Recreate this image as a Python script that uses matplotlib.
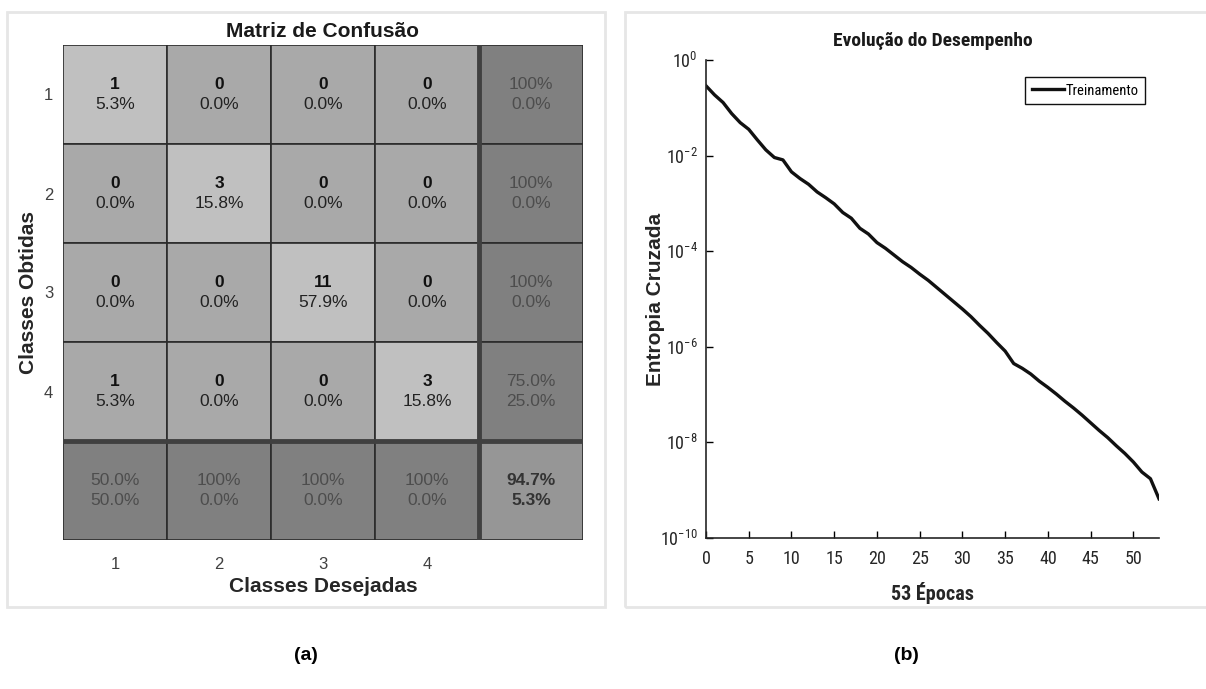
import matplotlib
matplotlib.use('Agg')
import matplotlib.pyplot as plt
import numpy as np
from matplotlib import font_manager
from matplotlib.patches import Rectangle

# confusion matrix counts (rows = obtained class, cols = desired class)
conf = np.array([[1, 0, 0, 0],
                 [0, 3, 0, 0],
                 [0, 0, 11, 0],
                 [1, 0, 0, 3]])
class_labels = ['1', '2', '3', '4']

# training curve (cross-entropy, log10 values)
epochs = np.arange(0, 54)
log_ce = [-0.54, -0.73, -0.89, -1.12, -1.31, -1.45, -1.67, -1.88, -2.04, -2.09,
          -2.34, -2.48, -2.60, -2.76, -2.88, -3.01, -3.19, -3.31, -3.52, -3.64,
          -3.82, -3.94, -4.08, -4.22, -4.34, -4.48, -4.61, -4.76, -4.91, -5.06,
          -5.21, -5.37, -5.55, -5.72, -5.91, -6.09, -6.35, -6.45, -6.57, -6.72,
          -6.85, -6.99, -7.14, -7.28, -7.43, -7.59, -7.75, -7.90, -8.07, -8.23,
          -8.41, -8.62, -8.76, -9.18]
ce = 10.0 ** np.array(log_ce)


def pick_font(names):
    for n in names:
        try:
            font_manager.findfont(n, fallback_to_default=False)
            return n
        except Exception:
            pass
    return 'DejaVu Sans'


SANS = pick_font(['Liberation Sans', 'Arimo', 'DejaVu Sans'])
NARROW = pick_font(['Liberation Sans Narrow', 'Roboto Condensed', 'Liberation Sans'])
plt.rcParams['font.family'] = SANS

W, H = 1206, 689
fig = plt.figure(figsize=(W / 100, H / 100), dpi=100)


def fx(px):
    return px / W


def fy(py):
    return 1 - py / H


# panel frames
fig.add_artist(Rectangle((fx(7), fy(607)), fx(598), (607 - 12) / H, transform=fig.transFigure,
                         fill=False, edgecolor='#e6e6e6', lw=2))
fig.add_artist(Rectangle((fx(625), fy(607)), fx(600), (607 - 12) / H, transform=fig.transFigure,
                         fill=False, edgecolor='#e6e6e6', lw=2))

# ---------------- (a) confusion matrix ----------------
n = conf.shape[0]
total = conf.sum()
row_sum = conf.sum(axis=1)
col_sum = conf.sum(axis=0)
diag = np.diag(conf)

ax = fig.add_axes([fx(63), fy(540), fx(520), (540 - 45) / H])
c_diag, c_off, c_marg, c_corner = '#c0c0c0', '#a9a9a9', '#808080', '#969696'
dy = 0.105
fs_cell = 12.5
for i in range(n + 1):
    for j in range(n + 1):
        if i < n and j < n:
            fc = c_diag if i == j else c_off
        elif i == n and j == n:
            fc = c_corner
        else:
            fc = c_marg
        ax.add_patch(Rectangle((j + 0.5, i + 0.5), 1, 1, facecolor=fc,
                               edgecolor='#2b2b2b', lw=1.2))
        if i < n and j < n:
            v = conf[i, j]
            ax.text(j + 1, i + 1 - dy, f'{v}', ha='center', va='center',
                    fontsize=fs_cell, fontweight='bold', color='#111111')
            ax.text(j + 1, i + 1 + dy, f'{100 * v / total:.1f}%', ha='center', va='center',
                    fontsize=fs_cell, color='#222222')
        else:
            if i < n and j == n:
                ok = diag[i] / row_sum[i]
            elif i == n and j < n:
                ok = diag[j] / col_sum[j]
            else:
                ok = diag.sum() / total
            good = '100%' if ok == 1 else f'{100 * ok:.1f}%'
            bad = f'{100 * (1 - ok):.1f}%'
            if i == n and j == n:
                kw = dict(fontweight='bold', color='#333333')
            else:
                kw = dict(color='#4d4d4d')
            ax.text(j + 1, i + 1 - dy, good, ha='center', va='center', fontsize=fs_cell, **kw)
            ax.text(j + 1, i + 1 + dy, bad, ha='center', va='center', fontsize=fs_cell, **kw)

ax.plot([n + 0.5, n + 0.5], [0.5, n + 1.5], color='#404040', lw=3.5)
ax.plot([0.5, n + 1.5], [n + 0.5, n + 0.5], color='#404040', lw=3.5)
ax.set_xlim(0.5, n + 1.5)
ax.set_ylim(n + 1.5, 0.5)
ax.set_xticks(range(1, n + 1))
ax.set_xticklabels(class_labels)
ax.set_yticks(range(1, n + 1))
ax.set_yticklabels(class_labels)
ax.tick_params(length=0, labelsize=12, labelcolor='#404040')
ax.tick_params(axis='x', pad=12)
ax.tick_params(axis='y', pad=7)
for s in ax.spines.values():
    s.set_visible(False)
ax.set_title('Matriz de Confusão', fontsize=15, fontweight='bold', pad=6, color='#1a1a1a')
ax.set_xlabel('Classes Desejadas', fontsize=15, fontweight='bold', color='#262626', labelpad=4)
ax.set_ylabel('Classes Obtidas', fontsize=15, fontweight='bold', color='#262626', labelpad=4)

# ---------------- (b) training performance ----------------
bx = fig.add_axes([fx(706), fy(538), fx(453), (538 - 60) / H])
bx.semilogy(epochs, ce, color='#111111', lw=2.4, label='Treinamento')
bx.set_xlim(0, 53)
bx.set_ylim(1e-10, 1)
bx.set_yticks([10.0 ** k for k in range(0, -11, -2)])
bx.yaxis.set_minor_locator(matplotlib.ticker.NullLocator())
bx.set_xticks(range(0, 51, 5))
bx.spines['top'].set_visible(False)
bx.spines['right'].set_visible(False)
for s in ('left', 'bottom'):
    bx.spines[s].set_color('#262626')
    bx.spines[s].set_linewidth(1.2)
bx.tick_params(direction='in', length=5, width=1, labelsize=13, labelcolor='#262626', pad=6)
bx.tick_params(axis='x', pad=9)
for lab in bx.get_xticklabels() + bx.get_yticklabels():
    lab.set_fontfamily(NARROW)
bx.set_title('Evolução do Desempenho', fontsize=14, fontweight='bold', family=NARROW,
             color='#1a1a1a', pad=10)
bx.set_xlabel('53 Épocas', fontsize=14.5, fontweight='bold', family=NARROW, color='#262626',
              labelpad=10)
bx.set_ylabel('Entropia Cruzada', fontsize=15, fontweight='bold', family=SANS,
              color='#262626', labelpad=-4)
leg = bx.legend(loc='upper right', bbox_to_anchor=(0.969, 0.9644), borderaxespad=0,
                fancybox=False, framealpha=1, edgecolor='#111111', handlelength=2.2,
                handletextpad=0.1, borderpad=0.45, prop={'family': NARROW, 'size': 10.5})
leg.get_frame().set_linewidth(1.0)

# sub-captions
fig.text(fx(306), fy(655), '(a)', ha='center', va='center', fontsize=14, fontweight='bold')
fig.text(fx(906), fy(655), '(b)', ha='center', va='center', fontsize=14, fontweight='bold')

fig.savefig('out.png', dpi=100)
